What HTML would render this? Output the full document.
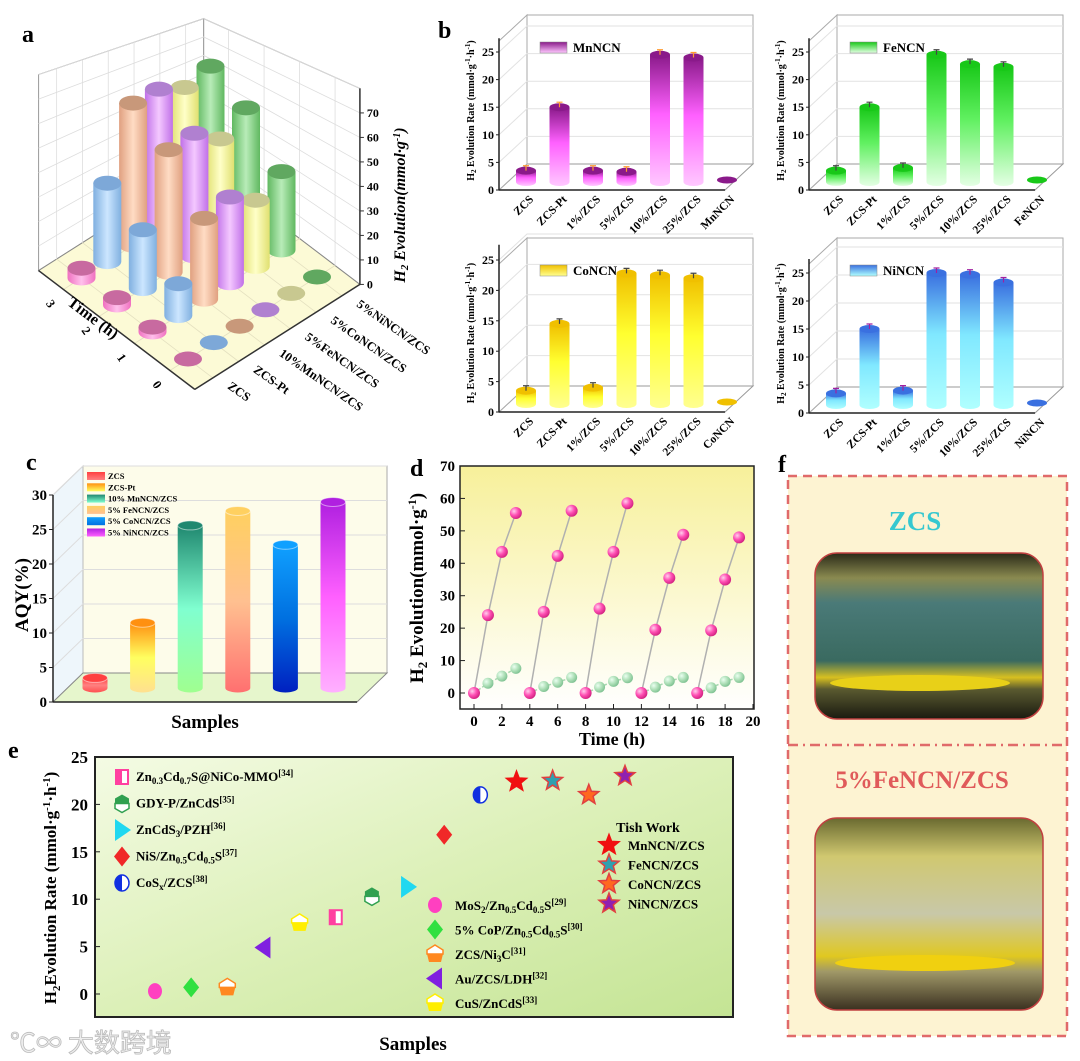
<!DOCTYPE html>
<html><head><meta charset="utf-8"><style>
html,body{margin:0;padding:0;background:#fff;}
svg{display:block;font-family:"Liberation Serif","Noto Serif CJK SC",serif;}
</style></head><body>
<svg id="fig" width="1080" height="1061" viewBox="0 0 1080 1061" xmlns="http://www.w3.org/2000/svg">
<defs>
<linearGradient id="gd" x1="0" y1="0" x2="0" y2="1"><stop offset="0" stop-color="#f7f09a"/><stop offset="1" stop-color="#ffffff"/></linearGradient>
<linearGradient id="ge" x1="0" y1="0" x2="1" y2="1"><stop offset="0" stop-color="#f4fbe4"/><stop offset="0.5" stop-color="#dcf0b8"/><stop offset="1" stop-color="#c4e494"/></linearGradient>
<radialGradient id="pinkBall" cx="0.35" cy="0.35" r="0.7"><stop offset="0" stop-color="#ffd0ec"/><stop offset="0.5" stop-color="#ff50b4"/><stop offset="1" stop-color="#d0207e"/></radialGradient>
<radialGradient id="greenBall" cx="0.35" cy="0.35" r="0.7"><stop offset="0" stop-color="#eafff0"/><stop offset="0.6" stop-color="#a8dcb2"/><stop offset="1" stop-color="#7cc090"/></radialGradient>
<linearGradient id="photo1" x1="0" y1="0" x2="0" y2="1"><stop offset="0" stop-color="#2a2a18"/><stop offset="0.15" stop-color="#8a8a50"/><stop offset="0.3" stop-color="#4a7a78"/><stop offset="0.65" stop-color="#3a6a60"/><stop offset="0.75" stop-color="#d8c020"/><stop offset="0.82" stop-color="#5a5a30"/><stop offset="1" stop-color="#1a1a10"/></linearGradient>
<linearGradient id="photo2" x1="0" y1="0" x2="0" y2="1"><stop offset="0" stop-color="#6a6a30"/><stop offset="0.2" stop-color="#d0c870"/><stop offset="0.5" stop-color="#c8c8a8"/><stop offset="0.72" stop-color="#e0c820"/><stop offset="0.8" stop-color="#a09868"/><stop offset="1" stop-color="#3a3020"/></linearGradient>
</defs>
<g id="panelA"></g>
<g id="panelB"></g>
<g id="panelC"></g>
<g id="panelD"></g>
<g id="panelE"></g>
<g id="panelF">
  <rect x="788" y="476" width="279" height="560" fill="#fdf3d2" stroke="#e06a6a" stroke-width="2.5" stroke-dasharray="9,6"/>
  <line x1="788" y1="745" x2="1067" y2="745" stroke="#e06a6a" stroke-width="2.5" stroke-dasharray="10,5,2,5"/>
  <text x="915" y="530" text-anchor="middle" font-size="27" font-weight="bold" fill="#36c8d0">ZCS</text>
  <rect x="815" y="553" width="228" height="166" rx="22" fill="url(#photo1)" stroke="#c04040" stroke-width="1.5"/>
  <ellipse cx="920" cy="683" rx="90" ry="8" fill="#e8d018"/>
  <text x="922" y="788" text-anchor="middle" font-size="25" font-weight="bold" fill="#e05a5a">5%FeNCN/ZCS</text>
  <rect x="815" y="818" width="228" height="192" rx="22" fill="url(#photo2)" stroke="#c04040" stroke-width="1.5"/>
  <ellipse cx="925" cy="963" rx="90" ry="8" fill="#f0d010"/>
  <text x="778" y="472" font-size="24" font-weight="bold">f</text>
</g>
<text x="10" y="1052" font-size="26" fill="#eeeeee" stroke="#bbbbbb" stroke-width="0.8" font-family="'Noto Sans CJK SC',sans-serif">℃∞ 大数跨境</text>
</svg>
<script>
// ---------- Panel a data ----------
const aSamples = ["ZCS","ZCS-Pt","10%MnNCN/ZCS","5%FeNCN/ZCS","5%CoNCN/ZCS","5%NiNCN/ZCS"];
const aTimes = ["0","1","2","3"];
const aZCS = [0,2,3,4];
const aPt = [0,13,24,32];
const aMn = [0,33,50,58];
const aFe = [0,35,50,57];
const aCo = [0,27,41,51];
const aNi = [0,32,47,53];
const aZTicks = [0,10,20,30,40,50,60,70];
// ---------- Panel b data ----------
const bCats = ["ZCS","ZCS-Pt","1%/ZCS","5%/ZCS","10%/ZCS","25%/ZCS"];
const bMn = [3.5,15,3.5,3.3,24.5,24,1.5];
const bFe = [3.5,15,4,24.5,22.8,22.3,1.5];
const bCo = [3.5,14.5,4,22.8,22.5,22,1.5];
const bNi = [3.5,15,4,25,24.7,23.3,1.5];
const bTicks = [0,5,10,15,20,25];
// ---------- Panel c data ----------
const cCats = ["ZCS","ZCS-Pt","10% MnNCN/ZCS","5% FeNCN/ZCS","5% CoNCN/ZCS","5% NiNCN/ZCS"];
const cAQY = [3.2,11.2,25.3,27.4,22.5,28.7];
const cTicks = [0,5,10,15,20,25,30];
// ---------- Panel d data ----------
const dTime = [0,1,2,3,4,5,6,7,8,9,10,11,12,13,14,15,16,17,18,19];
const dSample = [0,24,43.5,55.5, 0,25,42.3,56.2, 0,26,43.5,58.5, 0,19.5,35.5,48.8, 0,19.3,35,48];
const dZCS = [0,3,5.2,7.6, 0,2,3.3,4.8, 0,1.8,3.6,4.7, 0,1.8,3.7,4.8, 0,1.6,3.6,4.8];
const dXTicks = [0,2,4,6,8,10,12,14,16,18,20];
const dYTicks = [0,10,20,30,40,50,60,70];
// ---------- Panel e data ----------
const eNames = ["MoS2/Zn0.5Cd0.5S","5% CoP/Zn0.5Cd0.5S","ZCS/Ni3C","Au/ZCS/LDH","CuS/ZnCdS","Zn0.3Cd0.7S@NiCo-MMO","GDY-P/ZnCdS","ZnCdS3/PZH","NiS/Zn0.5Cd0.5S","CoSx/ZCS","MnNCN/ZCS","FeNCN/ZCS","CoNCN/ZCS","NiNCN/ZCS"];
const eRates = [0.3,0.7,0.7,4.9,7.5,8.1,10.3,11.3,16.8,21,22.4,22.5,21,23];
const eTicks = [0,5,10,15,20,25];

const NS="http://www.w3.org/2000/svg";
function mk(parent,tag,attrs,txt){const e=document.createElementNS(NS,tag);for(const k in attrs)e.setAttribute(k,attrs[k]);if(txt!==undefined)e.textContent=txt;parent.appendChild(e);return e;}
const defs=document.querySelector('defs');
function vgrad(id,stops,horiz){const g=mk(defs,'linearGradient',{id:id,x1:0,y1:0,x2:horiz?1:0,y2:horiz?0:1});stops.forEach(s=>mk(g,'stop',{offset:s[0],'stop-color':s[1]}));return 'url(#'+id+')';}
function cylPath(cx,by,h,rx,ry){return `M${cx-rx},${by-h} L${cx-rx},${by} A${rx},${ry} 0 0 0 ${cx+rx},${by} L${cx+rx},${by-h} Z`;}

// ================= PANEL A =================
(function(){
const g=document.getElementById('panelA');
const O=[188,359], S=[25.8,-16.4], T=[-35.5,-27];
const P=(s,t)=>[O[0]+S[0]*s+T[0]*t, O[1]+S[1]*s+T[1]*t];
const fz=(s,t)=>1.0-0.25*Math.max(0,((s+0.7)/6.4+(t+0.7)/4.4)-1); // perspective for walls
const zs=2.45, H=80;
const fl=P(-0.7,3.7), fr=P(5.7,-0.7), ff=P(-0.7,-0.7), fb=P(5.7,3.7);
const up=(p,s,t,z)=>[p[0],p[1]-z*zs*fz(s,t)];
const ltop=up(fl,-0.7,3.7,H), btop=up(fb,5.7,3.7,H), rtop=up(fr,5.7,-0.7,H);
let e;
e=mk(g,'polygon',{points:[fl,fb,btop,ltop].map(p=>p.join(',')).join(' '),fill:'#ffffff',stroke:'#999','stroke-width':1});

e=mk(g,'polygon',{points:[fb,fr,rtop,btop].map(p=>p.join(',')).join(' '),fill:'#ffffff',stroke:'#999','stroke-width':1});

e=mk(g,'polygon',{points:[ff,fr,fb,fl].map(p=>p.join(',')).join(' '),fill:'#fcfad6',stroke:'#888','stroke-width':1});

// grid
for(let z=10;z<=H;z+=10){
  const a=up(fl,-0.7,3.7,z), b=up(fb,5.7,3.7,z), c=up(fr,5.7,-0.7,z);
  e=mk(g,'polyline',{points:[a,b,c].map(p=>p.join(',')).join(' '),fill:'none',stroke:'#ddd','stroke-width':0.8});
  
}
for(let s=0;s<aSamples.length;s++){const b=P(s,3.7);const t=up(b,s,3.7,H);
  e=mk(g,'line',{x1:b[0],y1:b[1],x2:t[0],y2:t[1],stroke:'#ddd','stroke-width':0.8});
  const f1=P(s,-0.7);e=mk(g,'line',{x1:f1[0],y1:f1[1],x2:b[0],y2:b[1],stroke:'#e4e0c0','stroke-width':0.8});}
for(let t=0;t<aTimes.length;t++){const b=P(5.7,t);const tp=up(b,5.7,t,H);
  e=mk(g,'line',{x1:b[0],y1:b[1],x2:tp[0],y2:tp[1],stroke:'#ddd','stroke-width':0.8});
  const f1=P(-0.7,t);e=mk(g,'line',{x1:f1[0],y1:f1[1],x2:b[0],y2:b[1],stroke:'#e4e0c0','stroke-width':0.8});}
// front axes
e=mk(g,'line',{x1:fl[0],y1:fl[1],x2:ff[0],y2:ff[1],stroke:'#333','stroke-width':1.5});
e=mk(g,'line',{x1:ff[0],y1:ff[1],x2:fr[0],y2:fr[1],stroke:'#333','stroke-width':1.5});
e=mk(g,'line',{x1:fr[0],y1:fr[1],x2:rtop[0],y2:rtop[1],stroke:'#333','stroke-width':1.5});
aZTicks.forEach(v=>{const y=fr[1]-v*zs;
  e=mk(g,'line',{x1:fr[0],y1:y,x2:fr[0]+4,y2:y,stroke:'#333'});
  e=mk(g,'text',{x:fr[0]+7,y:y+4,'font-size':12,'font-weight':'bold'},String(v));});
e=mk(g,'text',{x:0,y:0,'font-size':16,'font-weight':'bold','font-style':'italic','text-anchor':'middle',transform:'translate(405,205) rotate(-90)'});
e.innerHTML='H<tspan font-size="11" dy="3">2</tspan><tspan dy="-3"> Evolution(mmol·g</tspan><tspan font-size="10" dy="-5">-1</tspan><tspan dy="5">)</tspan>';

// bars
const series=[aZCS,aPt,aMn,aFe,aCo,aNi];
const cols=[['#f070c0','#ffc0ec','#c86aa0'],['#80b0e0','#cce6ff','#7da8d8'],['#e0a080','#ffdcc4','#c8987a'],['#c070e8','#f4c8ff','#b080d0'],['#e0e070','#ffffc8','#c8c890'],['#60b860','#b8ecb8','#60a860']];
const grads=cols.map((c,i)=>vgrad('acyl'+i,[[0,c[0]],[0.5,c[1]],[1,c[0]]],true));
const items=[];
series.forEach((arr,s)=>arr.forEach((v,t)=>items.push({s,t,v})));
items.sort((a,b)=>P(a.s,a.t)[1]-P(b.s,b.t)[1]);
items.forEach(it=>{const b=P(it.s,it.t);const h=it.v*zs;const rx=14,ry=7.5;
  const grp=mk(g,'g',{});
  if(h>0.5){e=mk(grp,'path',{d:cylPath(b[0],b[1],h,rx,ry),fill:grads[it.s]});}
  e=mk(grp,'ellipse',{cx:b[0],cy:b[1]-h,rx:rx,ry:ry,fill:cols[it.s][2]});
});
// labels
aSamples.forEach((n,s)=>{const p=P(s,-0.7);
  e=mk(g,'text',{x:0,y:0,'font-size':12.5,'font-weight':'bold',transform:`translate(${p[0]+14},${p[1]+10}) rotate(35)`},n);
  });
aTimes.forEach((n,t)=>{const p=P(-0.7,t);
  e=mk(g,'text',{x:0,y:0,'font-size':12.5,'font-weight':'bold',transform:`translate(${p[0]-18},${p[1]+14}) rotate(55)`},n);
  });
e=mk(g,'text',{x:0,y:0,'font-size':16,'font-weight':'bold','text-anchor':'middle',transform:'translate(90,322) rotate(37)'},'Time (h)');

e=mk(g,'text',{x:22,y:42,'font-size':24,'font-weight':'bold'},'a');
})();

// ================= PANEL B =================
(function(){
const g=document.getElementById('panelB');
const cfgs=[
 {name:'MnNCN',vals:bMn,ax:499,y0:190,y25:52,top:15,c:['#8a1a8a','#ff60ff','#ffc8ff'],tip:'#ff9a30'},
 {name:'FeNCN',vals:bFe,ax:809,y0:190,y25:52,top:15,c:['#18c818','#60f060','#e4ffe4'],tip:'#444'},
 {name:'CoNCN',vals:bCo,ax:499,y0:412,y25:260,top:238,c:['#f0c000','#ffff30','#ffff90'],tip:'#444'},
 {name:'NiNCN',vals:bNi,ax:809,y0:413,y25:273,top:238,c:['#3a70e0','#80e8ff','#b0ffff'],tip:'#a020a0'}];
let e;
cfgs.forEach((c,k)=>{
 const sg=mk(g,'g',{});
 const sc=(c.y0-c.y25)/25; const y=v=>c.y0-v*sc;
 const dx=28,dy=-26,W=226;
 e=mk(sg,'rect',{x:c.ax+dx,y:c.top,width:W,height:c.y0+dy-c.top,fill:'#fff',stroke:'#aaa','stroke-width':1});
 e=mk(sg,'polygon',{points:`${c.ax},${c.y0} ${c.ax+W},${c.y0} ${c.ax+W+dx},${c.y0+dy} ${c.ax+dx},${c.y0+dy}`,fill:'#fff',stroke:'#999'});
 e=mk(sg,'polygon',{points:`${c.ax},${c.y0} ${c.ax},${c.top-dy} ${c.ax+dx},${c.top} ${c.ax+dx},${c.y0+dy}`,fill:'#fff',stroke:'#aaa'});
 bTicks.forEach(v=>{ if(v>0){e=mk(sg,'polyline',{points:`${c.ax},${y(v)} ${c.ax+dx},${y(v)+dy} ${c.ax+dx+W},${y(v)+dy}`,fill:'none',stroke:'#e2e2e2'});}
   e=mk(sg,'text',{x:c.ax-5,y:y(v)+4,'text-anchor':'end','font-size':12,'font-weight':'bold'},String(v));
   e=mk(sg,'line',{x1:c.ax-3,y1:y(v),x2:c.ax,y2:y(v),stroke:'#222'});});
 e=mk(sg,'line',{x1:c.ax,y1:c.y0,x2:c.ax,y2:y(27.5),stroke:'#222','stroke-width':1.5});
 e=mk(sg,'line',{x1:c.ax,y1:c.y0,x2:c.ax+W,y2:c.y0,stroke:'#222','stroke-width':1.5});
 const gr=vgrad('bg'+k,[[0,c.c[0]],[0.45,c.c[1]],[1,c.c[2]]]);
 const cats=bCats.concat([c.name]);
 c.vals.forEach((v,i)=>{const cx=c.ax+27+i*33.5, by=c.y0-8, ty=y(v), rx=10, ry=4;
   const bg=mk(sg,'g',{});
   if(by-ty>2){e=mk(bg,'path',{d:cylPath(cx,by,by-ty,rx,ry),fill:gr});
     e=mk(bg,'ellipse',{cx:cx,cy:ty,rx:rx,ry:ry,fill:c.c[0]});
     e=mk(bg,'path',{d:`M${cx-3},${ty-5} H${cx+3} M${cx},${ty-5} V${ty}`,stroke:c.tip,'stroke-width':1.2,fill:'none'});}
   else{e=mk(bg,'ellipse',{cx:cx,cy:by-2,rx:rx,ry:3.5,fill:c.c[0]});}
   e=mk(sg,'text',{x:0,y:0,'text-anchor':'end','font-size':11.5,'font-weight':'bold',transform:`translate(${cx+8},${c.y0+10}) rotate(-45)`},cats[i]);
   });
 e=mk(sg,'rect',{x:c.ax+41,y:c.top+27,width:27,height:11,fill:vgrad('bl'+k,[[0,c.c[0]],[1,c.c[2]]]),stroke:'#888','stroke-width':0.5});
 e=mk(sg,'text',{x:c.ax+74,y:c.top+37,'font-size':13,'font-weight':'bold'},c.name);
 e=mk(sg,'text',{x:0,y:0,'font-size':10,'font-weight':'bold','text-anchor':'middle',transform:`translate(${c.ax-25},${(c.y0+c.top)/2+8}) rotate(-90)`});
 e.innerHTML='H<tspan font-size="7" dy="2">2</tspan><tspan dy="-2"> Evolution Rate (mmol·g</tspan><tspan font-size="7" dy="-4">-1</tspan><tspan dy="4">·h</tspan><tspan font-size="7" dy="-4">-1</tspan><tspan dy="4">)</tspan>';
 
});
e=mk(g,'text',{x:438,y:38,'font-size':24,'font-weight':'bold'},'b');
})();

// ================= PANEL C =================
(function(){
const g=document.getElementById('panelC');let e;
const y=v=>700-6.9*v;
e=mk(g,'rect',{x:83,y:466,width:304,height:207,fill:'#fdfcea',stroke:'#aaa'});
e=mk(g,'polygon',{points:'53,702 53,495 83,466 83,673',fill:'#eef6fb',stroke:'#bbb'});
e=mk(g,'polygon',{points:'53,702 357,702 387,673 83,673',fill:'#e6f6cc',stroke:'#888'});
cTicks.forEach(v=>{const yy=702-v*6.9;
 if(v>0){e=mk(g,'polyline',{points:`53,${yy} 83,${yy-29} 387,${yy-29}`,fill:'none',stroke:'#ddd'});}
 e=mk(g,'text',{x:47,y:yy+5,'text-anchor':'end','font-size':15,'font-weight':'bold'},String(v));
 e=mk(g,'line',{x1:49,y1:yy,x2:53,y2:yy,stroke:'#222'});});
e=mk(g,'line',{x1:53,y1:702,x2:53,y2:495,stroke:'#222','stroke-width':1.5});
e=mk(g,'line',{x1:53,y1:702,x2:357,y2:702,stroke:'#222','stroke-width':1.5});
const cc=[['#ff4040','#ff8080','#ff5050'],['#ff9010','#ffff60','#ffe090'],['#208870','#80ffd0','#a0ff90'],['#ffd060','#ffc090','#ff7070'],['#10a0ff','#0070e0','#0020c0'],['#b020e0','#ff60ff','#ffb0ff']];
cAQY.forEach((v,i)=>{const cx=95+i*47.6, by=688, ty=y(v), rx=12.5, ry=4.5;
 const gr=vgrad('cg'+i,[[0,cc[i][0]],[0.5,cc[i][1]],[1,cc[i][2]]]);
 const bg=mk(g,'g',{});
 e=mk(bg,'path',{d:cylPath(cx,by,by-ty,rx,ry),fill:gr});
 e=mk(bg,'ellipse',{cx:cx,cy:ty,rx:rx,ry:ry,fill:cc[i][0],stroke:'rgba(255,255,255,0.5)'});
 e=mk(g,'rect',{x:87,y:472+i*11.3,width:18,height:8,fill:vgrad('cl'+i,[[0,cc[i][0]],[1,cc[i][1]]])});
 e=mk(g,'text',{x:108,y:479+i*11.3,'font-size':8.5,'font-weight':'bold'},cCats[i]);});
e=mk(g,'text',{x:0,y:0,'font-size':19,'font-weight':'bold','text-anchor':'middle',transform:'translate(28,595) rotate(-90)'},'AQY(%)');
e=mk(g,'text',{x:205,y:728,'font-size':19,'font-weight':'bold','text-anchor':'middle'},'Samples');
e=mk(g,'text',{x:26,y:470,'font-size':24,'font-weight':'bold'},'c');
})();

// ================= PANEL D =================
(function(){
const g=document.getElementById('panelD');let e;
const X=t=>474+t*13.95, Y=v=>693-v*3.243;
e=mk(g,'rect',{x:460,y:466,width:294,height:243,fill:'url(#gd)',stroke:'#222','stroke-width':1.5});
dXTicks.forEach(t=>{e=mk(g,'line',{x1:X(t),y1:709,x2:X(t),y2:704,stroke:'#222'});
 e=mk(g,'text',{x:X(t),y:726,'text-anchor':'middle','font-size':15,'font-weight':'bold'},String(t));});
dYTicks.forEach(v=>{e=mk(g,'line',{x1:460,y1:Y(v),x2:465,y2:Y(v),stroke:'#222'});
 e=mk(g,'text',{x:455,y:Y(v)+5,'text-anchor':'end','font-size':15,'font-weight':'bold'},String(v));});
for(let c=0;c<5;c++){
 const idx=[0,1,2,3].map(k=>c*4+k);
 e=mk(g,'polyline',{points:idx.map(i=>X(dTime[i])+','+Y(dSample[i])).join(' '),fill:'none',stroke:'#b0b0b0','stroke-width':1.5});
 e=mk(g,'polyline',{points:idx.map(i=>X(dTime[i])+','+Y(dZCS[i])).join(' '),fill:'none',stroke:'#a8d8b0','stroke-width':1.5,'stroke-dasharray':'3,2'});
}
dTime.forEach((t,i)=>{
 e=mk(g,'circle',{cx:X(t),cy:Y(dZCS[i]),r:5.5,fill:'url(#greenBall)'});});
dTime.forEach((t,i)=>{
 e=mk(g,'circle',{cx:X(t),cy:Y(dSample[i]),r:6,fill:'url(#pinkBall)'});});
e=mk(g,'text',{x:0,y:0,'font-size':19,'font-weight':'bold','text-anchor':'middle',transform:'translate(423,588) rotate(-90)'});
e.innerHTML='H<tspan font-size="13" dy="4">2</tspan><tspan dy="-4"> Evolution(mmol·g</tspan><tspan font-size="12" dy="-7">-1</tspan><tspan dy="7">)</tspan>';

e=mk(g,'text',{x:612,y:745,'font-size':18,'font-weight':'bold','text-anchor':'middle'},'Time (h)');
e=mk(g,'text',{x:410,y:476,'font-size':24,'font-weight':'bold'},'d');
})();

// ================= PANEL E =================
(function(){
const g=document.getElementById('panelE');let e;
const X=i=>155+i*36.15, Y=v=>994-v*9.48;
e=mk(g,'rect',{x:95,y:757,width:638,height:260,fill:'url(#ge)',stroke:'#222','stroke-width':2});
eTicks.forEach(v=>{e=mk(g,'text',{x:88,y:Y(v)+6,'text-anchor':'end','font-size':17,'font-weight':'bold'},String(v));
 e=mk(g,'line',{x1:95,y1:Y(v),x2:100,y2:Y(v),stroke:'#222'});});
function marker(par,type,x,y,c,c2){const r=8;let m;
 const grp=mk(par,'g',{});
 if(type==='circle'){m=mk(grp,'ellipse',{cx:x,cy:y,rx:7,ry:8,fill:c});}
 else if(type==='diamond'){m=mk(grp,'polygon',{points:`${x},${y-10} ${x+8},${y} ${x},${y+10} ${x-8},${y}`,fill:c});}
 else if(type==='hex'){mk(grp,'polygon',{points:`${x-7},${y} ${x-7},${y-5} ${x},${y-9} ${x+7},${y-5} ${x+7},${y}`,fill:c});mk(grp,'polygon',{points:`${x-7},${y} ${x-7},${y+5} ${x},${y+9} ${x+7},${y+5} ${x+7},${y}`,fill:'#fff',stroke:c,'stroke-width':1.5});}
 else if(type==='hexinv'){mk(grp,'polygon',{points:`${x-8},${y} ${x-8},${y-4} ${x},${y-9} ${x+8},${y-4} ${x+8},${y}`,fill:'#fff',stroke:c,'stroke-width':1.5});mk(grp,'polygon',{points:`${x-8},${y} ${x-6},${y+8} ${x+6},${y+8} ${x+8},${y}`,fill:c});}
 else if(type==='left'){m=mk(grp,'polygon',{points:`${x+7},${y-11} ${x+7},${y+11} ${x-9},${y}`,fill:c});}
 else if(type==='right'){m=mk(grp,'polygon',{points:`${x-7},${y-11} ${x-7},${y+11} ${x+9},${y}`,fill:c});}
 else if(type==='square'){mk(grp,'rect',{x:x-6,y:y-7,width:12,height:14,fill:'#fff',stroke:c,'stroke-width':2});mk(grp,'rect',{x:x-6,y:y-7,width:6,height:14,fill:c});}
 else if(type==='halfc'){mk(grp,'ellipse',{cx:x,cy:y,rx:7,ry:8,fill:'#fff',stroke:c,'stroke-width':1.5});mk(grp,'path',{d:`M${x},${y-8} A7,8 0 0 0 ${x},${y+8} Z`,fill:c});}
 else if(type==='star'){let p=[];for(let k=0;k<10;k++){const rr=k%2?4.5:10.5,a=-Math.PI/2+k*Math.PI/5;p.push((x+rr*Math.cos(a)).toFixed(1)+','+(y+rr*Math.sin(a)).toFixed(1));}
   mk(grp,'polygon',{points:p.join(' '),fill:c,stroke:c2||c,'stroke-width':1.5});}
 return grp;}
const mt=[['circle','#ff40c0'],['diamond','#30e040'],['hexinv','#ff8820'],['left','#8020e0'],['hexinv','#ffee00'],['square','#ff40a0'],['hex','#30a050'],['right','#20d8f0'],['diamond','#f02828'],['halfc','#1030e0'],['star','#f01010'],['star','#30a0b0','#e04040'],['star','#ff6820','#e04040'],['star','#9020b0','#e04040']];
eRates.forEach((v,i)=>{const m=marker(g,mt[i][0],X(i),Y(v),mt[i][1],mt[i][2]);
 
 });
// legends
const left=[[5,'Zn<tspan font-size="9" dy="3">0.3</tspan><tspan dy="-3">Cd</tspan><tspan font-size="9" dy="3">0.7</tspan><tspan dy="-3">S@NiCo-MMO</tspan><tspan font-size="9" dy="-5">[34]</tspan>'],[6,'GDY-P/ZnCdS<tspan font-size="9" dy="-5">[35]</tspan>'],[7,'ZnCdS<tspan font-size="9" dy="3">3</tspan><tspan dy="-3">/PZH</tspan><tspan font-size="9" dy="-5">[36]</tspan>'],[8,'NiS/Zn<tspan font-size="9" dy="3">0.5</tspan><tspan dy="-3">Cd</tspan><tspan font-size="9" dy="3">0.5</tspan><tspan dy="-3">S</tspan><tspan font-size="9" dy="-5">[37]</tspan>'],[9,'CoS<tspan font-size="9" dy="3">x</tspan><tspan dy="-3">/ZCS</tspan><tspan font-size="9" dy="-5">[38]</tspan>']];
left.forEach((l,k)=>{const yy=781+k*26.5;const m=marker(g,mt[l[0]][0],122,yy-4,mt[l[0]][1]);
 e=mk(g,'text',{x:136,y:yy,'font-size':13,'font-weight':'bold'});e.innerHTML=l[1];});
const mid=[[0,'MoS<tspan font-size="9" dy="3">2</tspan><tspan dy="-3">/Zn</tspan><tspan font-size="9" dy="3">0.5</tspan><tspan dy="-3">Cd</tspan><tspan font-size="9" dy="3">0.5</tspan><tspan dy="-3">S</tspan><tspan font-size="9" dy="-5">[29]</tspan>'],[1,'5% CoP/Zn<tspan font-size="9" dy="3">0.5</tspan><tspan dy="-3">Cd</tspan><tspan font-size="9" dy="3">0.5</tspan><tspan dy="-3">S</tspan><tspan font-size="9" dy="-5">[30]</tspan>'],[2,'ZCS/Ni<tspan font-size="9" dy="3">3</tspan><tspan dy="-3">C</tspan><tspan font-size="9" dy="-5">[31]</tspan>'],[3,'Au/ZCS/LDH<tspan font-size="9" dy="-5">[32]</tspan>'],[4,'CuS/ZnCdS<tspan font-size="9" dy="-5">[33]</tspan>']];
mid.forEach((l,k)=>{const yy=910+k*24.5;const m=marker(g,mt[l[0]][0],435,yy-5,mt[l[0]][1]);
 e=mk(g,'text',{x:455,y:yy,'font-size':13,'font-weight':'bold'});e.innerHTML=l[1];});
e=mk(g,'text',{x:648,y:832,'font-size':14,'font-weight':'bold','text-anchor':'middle'},'Tish Work');
for(let k=0;k<4;k++){const i=10+k;const yy=850+k*19.5;const m=marker(g,'star',609,yy-5,mt[i][1],mt[i][2]);
 e=mk(g,'text',{x:628,y:yy,'font-size':13,'font-weight':'bold'},eNames[i]);}
e=mk(g,'text',{x:0,y:0,'font-size':17,'font-weight':'bold','text-anchor':'middle',transform:'translate(56,888) rotate(-90)'});
e.innerHTML='H<tspan font-size="11" dy="4">2</tspan><tspan dy="-4">Evolution Rate (mmol·g</tspan><tspan font-size="11" dy="-6">-1</tspan><tspan dy="6">·h</tspan><tspan font-size="11" dy="-6">-1</tspan><tspan dy="6">)</tspan>';

e=mk(g,'text',{x:413,y:1050,'font-size':19,'font-weight':'bold','text-anchor':'middle'},'Samples');
e=mk(g,'text',{x:8,y:758,'font-size':24,'font-weight':'bold'},'e');
})();
</script>
</body></html>
